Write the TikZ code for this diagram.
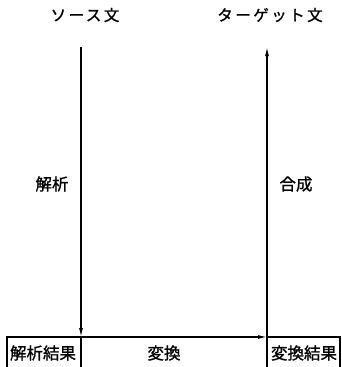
\documentclass[tikz,border=0pt]{standalone}
\usepackage{fontspec}
\newfontfamily\jp[AutoFakeBold=1.2]{Noto Sans CJK JP}
\newfontfamily\jpwide[AutoFakeBold=1.2,LetterSpace=16]{Noto Sans CJK JP}
\usetikzlibrary{arrows.meta}
\tikzset{
  lbl/.style={font=\jp\bfseries\fontsize{16.5}{17}\selectfont, inner sep=0pt},
  hdr/.style={font=\jpwide\bfseries\fontsize{15.5}{16}\selectfont, inner sep=0pt},
  conn/.style={line width=1.2pt, -{Latex[length=9pt,width=4pt]}},
  boxline/.style={line width=1.1pt}
}
\begin{document}
\begin{tikzpicture}[x=1pt,y=-1pt]
\useasboundingbox (0,0) rectangle (341,367);
\node[hdr] (src) at (85,15) {ソース文};
\node[hdr] (tgt) at (270,15) {ターゲット文};
\node[lbl] (ana) at (52,184) {解析};
\node[lbl] (syn) at (296,184) {合成};
\node[lbl] (anares) at (43,353) {解析結果};
\node[lbl] (trans) at (164,353) {変換};
\node[lbl] (transres) at (304,353) {変換結果};
\coordinate (ltop) at (81,47);
\coordinate (lbot) at (81,337);
\coordinate (rtop) at (267,47);
\coordinate (rbot) at (267,337);
\coordinate (boxl) at (7,337);
\coordinate (boxr) at (340,337);
\draw[conn] (ltop) -- (lbot);
\draw[conn] (rbot) -- (rtop);
\draw[conn] (lbot) -- (rbot);
\draw[boxline] (7,367) -- (boxl) -- (lbot) -- (81,367);
\draw[boxline] (rbot) -- (boxr) -- (340,367);
\draw[boxline] (rbot) -- (267,367);
\end{tikzpicture}
\end{document}
